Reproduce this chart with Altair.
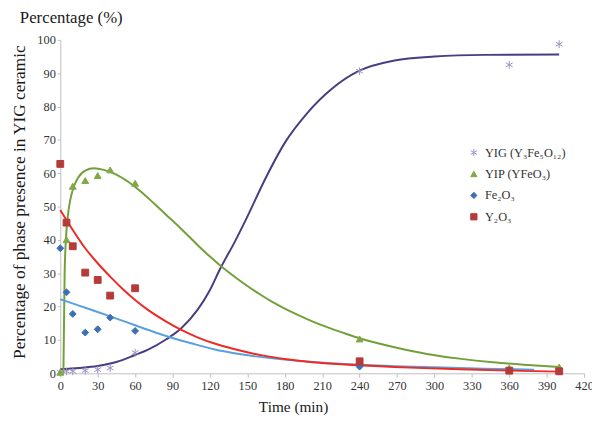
import altair as alt
import pandas as pd

# ---------------- data ----------------
phases = ["YIG (Y₃Fe₅O₁₂)", "YIP (YFeO₃)", "Fe₂O₃", "Y₂O₃"]

t_obs = [0, 5, 10, 20, 30, 40, 60, 240, 360, 400]
yig_obs = [0.3, 0.6, 0.6, 0.8, 1.1, 1.6, 6.2, 90.6, 92.5, 98.7]
yip_obs = [0.3, 40.1, 56.1, 57.8, 59.3, 61.0, 57.0, 10.3, 1.6, 1.9]
fe2o3_obs = [37.5, 24.3, 17.8, 12.2, 13.2, 16.7, 12.7, 2.0, 0.8, 0.5]
y2o3_obs = [62.8, 45.2, 38.1, 30.2, 28.0, 23.3, 25.5, 3.6, 0.8, 0.6]

# fitted curves
yig_curve_t = [0, 15, 30, 45, 60, 70, 85, 97, 110, 120, 128, 140, 150, 165, 181, 197, 218, 239, 268, 300, 340, 400]
yig_curve_v = [1.2, 1.6, 2.2, 3.4, 5.5, 7.0, 10.2, 13.5, 19.0, 25.0, 31.2, 39.5, 47.0, 58.8, 69.7, 77.6, 85.4, 90.6, 93.8, 95.0, 95.5, 95.6]

yip_curve_t = [2.5, 3, 3.5, 4.5, 6, 8, 10, 14, 20, 27, 35, 45, 55, 65, 75, 85, 97, 110, 120, 128, 140, 150, 160, 170,
               180, 190, 202, 215, 228, 240, 268, 294, 320, 347, 375, 400]
yip_curve_v = [0, 15, 30, 40, 47, 52, 55, 58.5, 60.8, 61.5, 61.0, 59.6, 57.3, 54.4, 51.0, 47.5, 43.3, 38.5, 35.0, 32.4,
               28.9, 26.2, 23.7, 21.4, 19.4, 17.6, 15.6, 13.7, 12.0, 10.5, 7.8, 5.8, 4.4, 3.3, 2.5, 1.9]

fe2o3_curve_t = [0, 15, 30, 45, 60, 75, 90, 105, 123, 145, 165, 200, 240, 300, 340, 380]
fe2o3_curve_v = [22.2, 20.3, 18.4, 16.4, 14.4, 12.4, 10.6, 9.0, 7.2, 5.7, 4.7, 3.5, 2.6, 1.8, 1.4, 1.1]

y2o3_curve_t = [0, 10, 20, 30, 40, 50, 60, 70, 85, 97, 110, 123, 140, 163, 180, 202, 239, 280, 320, 360, 400]
y2o3_curve_v = [49, 43, 37.5, 33, 29, 25.3, 22, 19.1, 15.5, 13, 10.8, 9, 7.2, 5.3, 4.3, 3.3, 2.4, 1.7, 1.2, 0.8, 0.5]

x_ticks = list(range(0, 421, 30))
y_ticks = list(range(0, 101, 10))
top_title = ["Percentage (%)"]

# ---------------- styles ----------------
point_colors = ["#9a90c4", "#80a846", "#3d6fb6", "#b53a3a"]
line_colors = ["#4a3c82", "#72a03a", "#5aa0dd", "#ee2a24"]
asterisk = "M0,-1.15L0,1.15M-1,-0.6L1,0.6M-1,0.6L1,-0.6"
shapes = [asterisk, "triangle-up", "diamond", "square"]
SERIF = "Liberation Serif"

rows = []
for ph, vals in zip(phases, [yig_obs, yip_obs, fe2o3_obs, y2o3_obs]):
    for t, v in zip(t_obs, vals):
        rows.append({"phase": ph, "t": t, "v": v})
points = pd.DataFrame(rows)

curves = [
    pd.DataFrame({"t": yig_curve_t, "v": yig_curve_v}),
    pd.DataFrame({"t": yip_curve_t, "v": yip_curve_v}),
    pd.DataFrame({"t": fe2o3_curve_t, "v": fe2o3_curve_v}),
    pd.DataFrame({"t": y2o3_curve_t, "v": y2o3_curve_v}),
]

W, H = 531, 338

x_enc = alt.X(
    "t:Q",
    scale=alt.Scale(domain=[0, 420], nice=False),
    axis=alt.Axis(
        values=x_ticks, title="Time (min)", grid=False,
        titleX=236, titleY=38.5, titleBaseline="alphabetic", titleAlign="center",
        titleFont=SERIF, titleFontSize=15.5, titleFontWeight="normal", titleColor="#1a1a1a",
        labelFont=SERIF, labelFontSize=12.5, labelColor="#333333", labelPadding=2,
        tickSize=4, tickColor="#bfbfbf", domainColor="#bfbfbf", labelFlush=False,
    ),
)
y_enc = alt.Y(
    "v:Q",
    scale=alt.Scale(domain=[0, 100], nice=False),
    axis=alt.Axis(
        values=y_ticks, title="Percentage of phase presence in YIG ceramic", grid=False,
        titleX=-41, titleY=H / 2 - 5, titleBaseline="middle", titleAlign="center", titleAngle=270,
        titleFont=SERIF, titleFontSize=17.5, titleFontWeight="normal", titleColor="#1a1a1a",
        labelFont=SERIF, labelFontSize=12.5, labelColor="#333333", labelPadding=2,
        tickSize=3, tickColor="#bfbfbf", domainColor="#bfbfbf",
    ),
)

legend = alt.Legend(
    title=None, orient="none", legendX=413, legendY=108, padding=0,
    labelFont=SERIF, labelFontSize=12.5, labelColor="#333333",
    symbolSize=40, symbolStrokeWidth=1, rowPadding=8.7, labelOffset=5,
)

layers = []
for df, col in zip(curves, line_colors):
    layers.append(
        alt.Chart(df).mark_line(color=col, strokeWidth=2, interpolate="monotone").encode(x=x_enc, y=y_enc)
    )

pts = alt.Chart(points).mark_point(filled=True, size=48, strokeWidth=1, opacity=1).encode(
    x=x_enc,
    y=y_enc,
    fill=alt.Fill("phase:N", scale=alt.Scale(domain=phases, range=point_colors), legend=legend),
    stroke=alt.Stroke("phase:N", scale=alt.Scale(domain=phases, range=point_colors), legend=legend),
    shape=alt.Shape("phase:N", scale=alt.Scale(domain=phases, range=shapes), legend=legend),
)
layers.append(pts)

title_mark = alt.Chart(pd.DataFrame({"label": top_title})).mark_text(
    align="left", baseline="alphabetic", font=SERIF, fontSize=17, color="#1a1a1a"
).encode(x=alt.value(-41), y=alt.value(-17), text="label:N")
layers.append(title_mark)

chart = (
    alt.layer(*layers)
    .properties(
        width=W,
        height=H,
        autosize=alt.AutoSizeParams(type="none"),
        padding={"left": 53, "top": 29.5, "right": 8, "bottom": 42},
        background="white",
    )
    .configure_view(strokeWidth=0)
)

chart.save("out.html", embed_options={"renderer": "svg", "actions": False})
